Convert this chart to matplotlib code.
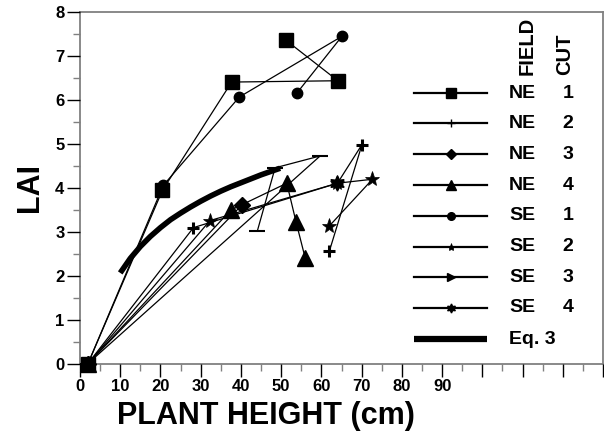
import matplotlib
matplotlib.use("Agg")
import matplotlib.pyplot as plt
from matplotlib.lines import Line2D
from matplotlib.ticker import MultipleLocator

plt.rcParams['font.family'] = ['Liberation Sans', 'DejaVu Sans']
plt.rcParams['font.weight'] = 'bold'

# ---- data (plant height cm, LAI) ----
ne1_h = [2.0, 20.5, 37.7, 64.1, 51.2]
ne1_lai = [0.0, 3.94, 6.40, 6.43, 7.35]
se1_h = [2.0, 20.7, 39.6, 65.1, 54.0]
se1_lai = [0.0, 4.05, 6.06, 7.44, 6.16]
ne2_h = [2.0, 28.2, 64.0, 70.1, 62.0]
ne2_lai = [0.0, 3.09, 4.10, 4.98, 2.56]
se2_h = [2.0, 32.3, 64.0, 72.7, 61.9]
se2_lai = [0.0, 3.25, 4.10, 4.19, 3.12]
ne3_h = [2.0, 40.2]
ne3_lai = [0.0, 3.60]
ne4_h = [2.0, 37.5, 51.4, 53.7, 56.0]
ne4_lai = [0.0, 3.49, 4.10, 3.22, 2.39]
se3_h = [2.0, 59.7, 48.5, 44.1]
se3_lai = [0.0, 4.72, 4.45, 3.02]
se4_h = [64.0]
se4_lai = [4.10]
eq3_h = [10, 12.5, 15, 17.5, 20, 22.5, 25, 27.5, 30, 32.5, 35, 37.5, 40, 42.5, 45, 47.5, 49.75]
eq3_lai = [2.06, 2.39, 2.66, 2.89, 3.09, 3.27, 3.42, 3.56, 3.69, 3.81, 3.92, 4.02, 4.11, 4.20, 4.29, 4.37, 4.44]

x_labels = ['0', '10', '20', '30', '40', '50', '60', '70', '80', '90']
legend_field = ['NE', 'NE', 'NE', 'NE', 'SE', 'SE', 'SE', 'SE']
legend_cut = ['1', '2', '3', '4', '1', '2', '3', '4']

W, H = 604, 440
fig = plt.figure(figsize=(W / 100, H / 100), dpi=100)
L, R, T, B = 80, 603, 11.7, 363.5
ax = fig.add_axes([L / W, 1 - B / H, (R - L) / W, (B - T) / H])

lw = 0.9
kw = dict(color='k', lw=lw, clip_on=False)
ax.plot(ne2_h, ne2_lai, marker='+', ms=9, mew=2.2, **kw)
ax.plot(se2_h, se2_lai, marker='*', ms=11, mew=0.5, **kw)
ax.plot(ne3_h, ne3_lai, marker='D', ms=8, **kw)
ax.plot(ne4_h, ne4_lai, marker='^', ms=11, **kw)
ax.plot(se3_h, se3_lai, marker='_', ms=11, mew=1.5, **kw)
ax.plot(se1_h, se1_lai, marker='o', ms=7.5, **kw)
ax.plot(ne1_h, ne1_lai, marker='s', ms=10, **kw)
ax.plot(se4_h, se4_lai, marker=(6, 1, 0), ms=11, **kw)
ax.plot(eq3_h, eq3_lai, color='k', lw=4, solid_capstyle='butt')

ax.set_xlim(0, 130)
ax.set_ylim(0, 8)
ax.xaxis.set_minor_locator(MultipleLocator(5))
ax.yaxis.set_minor_locator(MultipleLocator(0.5))
xt = list(range(0, 131, 10))
ax.set_xticks(xt)
ax.set_xticklabels([x_labels[i] if i < len(x_labels) else '' for i in range(len(xt))])
ax.set_yticks(range(0, 9))
ax.tick_params(which='major', direction='out', length=9.2, width=1.0, color='k',
               labelsize=12, pad=2)
ax.tick_params(which='minor', direction='out', length=4.7, width=1.0, color='#808080')
for lab in ax.get_xticklabels() + ax.get_yticklabels():
    lab.set_fontweight('bold')
for s in ax.spines.values():
    s.set_color('#808080')
    s.set_linewidth(1.3)
    s.set_zorder(0.5)

def fx(px):
    return px / W

def fy(py):
    return 1 - py / H

fig.text(fx(266), fy(416), 'PLANT HEIGHT (cm)', fontsize=22, fontweight='bold',
         ha='center', va='center')
fig.text(fx(30), fy(188), 'LAI', fontsize=22, fontweight='bold', rotation=90,
         ha='center', va='center')

# legend
rows_y = [93.3, 123.3, 154.3, 185, 215.7, 246.7, 277.3, 307.7]
leg_markers = [('s', 7, 1), ('+', 6, 1), ('D', 5.5, 1), ('^', 7, 1), ('o', 5.5, 1),
               ('*', 6, 0.5), ('>', 6, 1), ((6, 1, 0), 6.5, 1)]
fs = 14
for yv, (m, ms, mew), fld, cut in zip(rows_y, leg_markers, legend_field, legend_cut):
    fig.add_artist(Line2D([fx(414), fx(487)], [fy(yv), fy(yv)], color='k', lw=1.6,
                          transform=fig.transFigure))
    fig.add_artist(Line2D([fx(451)], [fy(yv)], color='k', marker=m, ms=ms, mew=mew,
                          transform=fig.transFigure))
    fig.text(fx(509), fy(yv), fld, fontsize=fs, fontweight='bold', ha='left', va='center')
    fig.text(fx(568), fy(yv), cut, fontsize=fs, fontweight='bold', ha='center', va='center')
yv = 339
fig.add_artist(Line2D([fx(414), fx(487)], [fy(yv), fy(yv)], color='k', lw=4.5,
                      solid_capstyle='butt', transform=fig.transFigure))
fig.text(fx(509), fy(yv), 'Eq. 3', fontsize=fs, fontweight='bold', ha='left', va='center')
fig.text(fx(527), fy(75), 'FIELD', fontsize=14.5, fontweight='bold', rotation=90,
         ha='center', va='bottom')
fig.text(fx(565), fy(75), 'CUT', fontsize=14.5, fontweight='bold', rotation=90,
         ha='center', va='bottom')

fig.savefig('out.png', dpi=100)
